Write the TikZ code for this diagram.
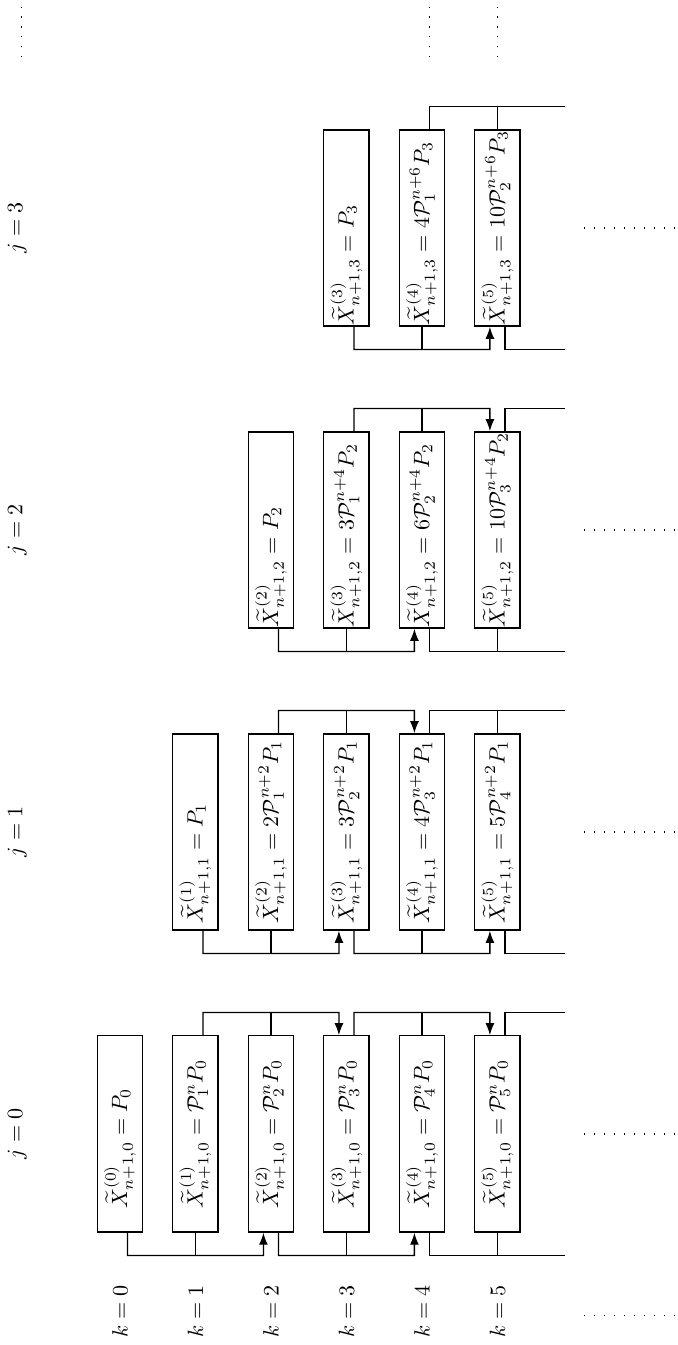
\documentclass[tikz,border=0pt]{standalone}
\usepackage{amsmath}
\usetikzlibrary{arrows.meta}
\tikzset{
  celula/.style={draw, semithick, minimum width=3.12cm, minimum height=7.2mm, inner sep=0pt},
  seta/.style={-{Latex[length=1.9mm]}, semithick},
  linha/.style={semithick},
  rotulo/.style={inner sep=2pt},
  pontos/.style={loosely dotted, line width=0.5pt},
}
% largura do texto mais longo de cada coluna
\newlength{\colzero}
\newlength{\colum}
\newlength{\coldois}
\newlength{\coltres}
\newcommand{\xtexto}[2]{\makebox[#1][l]{$#2$}}

\begin{document}
\settowidth{\colzero}{$\widetilde{X}^{(5)}_{n+1,0} = \mathcal{P}^n_5 P_0$}
\settowidth{\colum}{$\widetilde{X}^{(5)}_{n+1,1} = 5\mathcal{P}^{n+2}_4 P_1$}
\settowidth{\coldois}{$\widetilde{X}^{(5)}_{n+1,2} = 10\mathcal{P}^{n+4}_3 P_2$}
\settowidth{\coltres}{$\widetilde{X}^{(5)}_{n+1,3} = 10\mathcal{P}^{n+6}_2 P_3$}
\begin{tikzpicture}[rotate=90, transform shape, x=1.2cm, y=1.2cm]
  \useasboundingbox (-2.795,-7.39) rectangle (15.02,1.589);
  % rotulos j e k
  \node[rotulo] (j0) at (0,1.36) {$j=0$};
  \node[rotulo] (j1) at (4,1.36) {$j=1$};
  \node[rotulo] (j2) at (8,1.36) {$j=2$};
  \node[rotulo] (j3) at (12,1.36) {$j=3$};
  \node[rotulo] (k0) at (-2.35,0) {$k=0$};
  \node[rotulo] (k1) at (-2.35,-1) {$k=1$};
  \node[rotulo] (k2) at (-2.35,-2) {$k=2$};
  \node[rotulo] (k3) at (-2.35,-3) {$k=3$};
  \node[rotulo] (k4) at (-2.35,-4) {$k=4$};
  \node[rotulo] (k5) at (-2.35,-5) {$k=5$};
  % j = 0
  \node[celula] (x00) at (0,0) {\xtexto{\colzero}{\widetilde{X}^{(0)}_{n+1,0} = P_0}};
  \node[celula] (x10) at (0,-1) {\xtexto{\colzero}{\widetilde{X}^{(1)}_{n+1,0} = \mathcal{P}^n_1 P_0}};
  \node[celula] (x20) at (0,-2) {\xtexto{\colzero}{\widetilde{X}^{(2)}_{n+1,0} = \mathcal{P}^n_2 P_0}};
  \node[celula] (x30) at (0,-3) {\xtexto{\colzero}{\widetilde{X}^{(3)}_{n+1,0} = \mathcal{P}^n_3 P_0}};
  \node[celula] (x40) at (0,-4) {\xtexto{\colzero}{\widetilde{X}^{(4)}_{n+1,0} = \mathcal{P}^n_4 P_0}};
  \node[celula] (x50) at (0,-5) {\xtexto{\colzero}{\widetilde{X}^{(5)}_{n+1,0} = \mathcal{P}^n_5 P_0}};
  % j = 1
  \node[celula] (x11) at (4,-1) {\xtexto{\colum}{\widetilde{X}^{(1)}_{n+1,1} = P_1}};
  \node[celula] (x21) at (4,-2) {\xtexto{\colum}{\widetilde{X}^{(2)}_{n+1,1} = 2\mathcal{P}^{n+2}_1 P_1}};
  \node[celula] (x31) at (4,-3) {\xtexto{\colum}{\widetilde{X}^{(3)}_{n+1,1} = 3\mathcal{P}^{n+2}_2 P_1}};
  \node[celula] (x41) at (4,-4) {\xtexto{\colum}{\widetilde{X}^{(4)}_{n+1,1} = 4\mathcal{P}^{n+2}_3 P_1}};
  \node[celula] (x51) at (4,-5) {\xtexto{\colum}{\widetilde{X}^{(5)}_{n+1,1} = 5\mathcal{P}^{n+2}_4 P_1}};
  % j = 2
  \node[celula] (x22) at (8,-2) {\xtexto{\coldois}{\widetilde{X}^{(2)}_{n+1,2} = P_2}};
  \node[celula] (x32) at (8,-3) {\xtexto{\coldois}{\widetilde{X}^{(3)}_{n+1,2} = 3\mathcal{P}^{n+4}_1 P_2}};
  \node[celula] (x42) at (8,-4) {\xtexto{\coldois}{\widetilde{X}^{(4)}_{n+1,2} = 6\mathcal{P}^{n+4}_2 P_2}};
  \node[celula] (x52) at (8,-5) {\xtexto{\coldois}{\widetilde{X}^{(5)}_{n+1,2} = 10\mathcal{P}^{n+4}_3 P_2}};
  % j = 3
  \node[celula] (x33) at (12,-3) {\xtexto{\coltres}{\widetilde{X}^{(3)}_{n+1,3} = P_3}};
  \node[celula] (x43) at (12,-4) {\xtexto{\coltres}{\widetilde{X}^{(4)}_{n+1,3} = 4\mathcal{P}^{n+6}_1 P_3}};
  \node[celula] (x53) at (12,-5) {\xtexto{\coltres}{\widetilde{X}^{(5)}_{n+1,3} = 10\mathcal{P}^{n+6}_2 P_3}};
  % ligacoes j = 0
  \draw[seta] ([yshift=-1.2mm]x00.west) -- ++(-0.3,0) -- ++(0,-1.8) -- ([yshift=1.2mm]x20.west);
  \draw[linha] (x10.west) -- ++(-0.3,0);
  \draw[seta] ([yshift=-1.2mm]x10.east) -- ++(0.3,0) -- ++(0,-1.8) -- ([yshift=1.2mm]x30.east);
  \draw[linha] (x20.east) -- ++(0.3,0);
  \draw[seta] ([yshift=-1.2mm]x20.west) -- ++(-0.3,0) -- ++(0,-1.8) -- ([yshift=1.2mm]x40.west);
  \draw[linha] (x30.west) -- ++(-0.3,0);
  \draw[seta] ([yshift=-1.2mm]x30.east) -- ++(0.3,0) -- ++(0,-1.8) -- ([yshift=1.2mm]x50.east);
  \draw[linha] (x40.east) -- ++(0.3,0);
  \draw[linha] ([yshift=-1.2mm]x40.west) -- ++(-0.3,0) -- ++(0,-1.8);
  \draw[linha] (x50.west) -- ++(-0.3,0);
  \draw[linha] ([yshift=-1.2mm]x50.east) -- ++(0.3,0) -- ++(0,-0.8);
  % ligacoes j = 1
  \draw[seta] ([yshift=-1.2mm]x11.west) -- ++(-0.3,0) -- ++(0,-1.8) -- ([yshift=1.2mm]x31.west);
  \draw[linha] (x21.west) -- ++(-0.3,0);
  \draw[seta] ([yshift=-1.2mm]x21.east) -- ++(0.3,0) -- ++(0,-1.8) -- ([yshift=1.2mm]x41.east);
  \draw[linha] (x31.east) -- ++(0.3,0);
  \draw[seta] ([yshift=-1.2mm]x31.west) -- ++(-0.3,0) -- ++(0,-1.8) -- ([yshift=1.2mm]x51.west);
  \draw[linha] (x41.west) -- ++(-0.3,0);
  \draw[linha] ([yshift=-1.2mm]x41.east) -- ++(0.3,0) -- ++(0,-1.8);
  \draw[linha] (x51.east) -- ++(0.3,0);
  \draw[linha] ([yshift=-1.2mm]x51.west) -- ++(-0.3,0) -- ++(0,-0.8);
  % ligacoes j = 2
  \draw[seta] ([yshift=-1.2mm]x22.west) -- ++(-0.3,0) -- ++(0,-1.8) -- ([yshift=1.2mm]x42.west);
  \draw[linha] (x32.west) -- ++(-0.3,0);
  \draw[seta] ([yshift=-1.2mm]x32.east) -- ++(0.3,0) -- ++(0,-1.8) -- ([yshift=1.2mm]x52.east);
  \draw[linha] (x42.east) -- ++(0.3,0);
  \draw[linha] ([yshift=-1.2mm]x42.west) -- ++(-0.3,0) -- ++(0,-1.8);
  \draw[linha] (x52.west) -- ++(-0.3,0);
  \draw[linha] ([yshift=-1.2mm]x52.east) -- ++(0.3,0) -- ++(0,-0.8);
  % ligacoes j = 3
  \draw[seta] ([yshift=-1.2mm]x33.west) -- ++(-0.3,0) -- ++(0,-1.8) -- ([yshift=1.2mm]x53.west);
  \draw[linha] (x43.west) -- ++(-0.3,0);
  \draw[linha] ([yshift=-1.2mm]x43.east) -- ++(0.3,0) -- ++(0,-1.8);
  \draw[linha] (x53.east) -- ++(0.3,0);
  \draw[linha] ([yshift=-1.2mm]x53.west) -- ++(-0.3,0) -- ++(0,-0.8);
  % reticencias
  \draw[pontos] (-2.4,-6.15) -- (-2.4,-7.4);
  \draw[pontos] (0,-6.15) -- (0,-7.4);
  \draw[pontos] (4,-6.15) -- (4,-7.4);
  \draw[pontos] (8,-6.15) -- (8,-7.4);
  \draw[pontos] (12,-6.15) -- (12,-7.4);
  \draw[pontos] (14.26,1.3) -- (15.02,1.3);
  \draw[pontos] (14.26,-4.1) -- (15.02,-4.1);
  \draw[pontos] (14.26,-5) -- (15.02,-5);
\end{tikzpicture}
\end{document}
